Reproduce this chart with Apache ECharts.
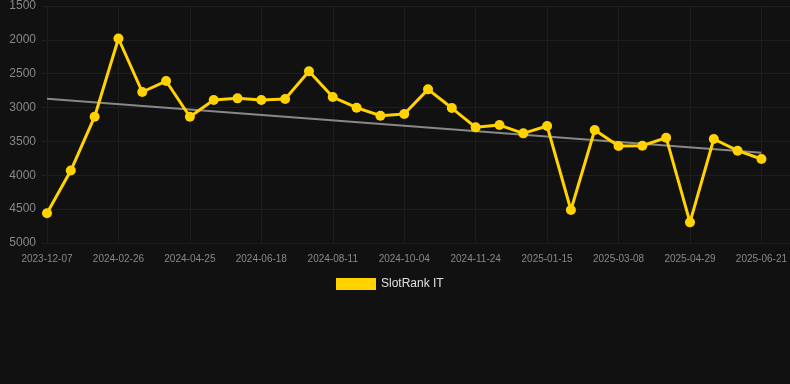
<!DOCTYPE html>
<html>
<head>
<meta charset="utf-8">
<script src="https://cdn.jsdelivr.net/npm/echarts@6/dist/echarts.min.js"></script>
<style>
html,body{margin:0;padding:0;background:#111111;}
#chart{width:790px;height:384px;}
</style>
</head>
<body>
<div id="chart"></div>
<script>
var categories = [
  '2023-12-07','2024-01-03','2024-01-30','2024-02-26','2024-03-16','2024-04-05','2024-04-25',
  '2024-05-13','2024-05-31','2024-06-18','2024-07-06','2024-07-24','2024-08-11','2024-08-29',
  '2024-09-16','2024-10-04','2024-10-21','2024-11-07','2024-11-24','2024-12-11','2024-12-29',
  '2025-01-15','2025-02-01','2025-02-18','2025-03-08','2025-03-25','2025-04-11','2025-04-29',
  '2025-05-16','2025-06-03','2025-06-21'
];
var rankValues = [
  4560, 3930, 3135, 1980, 2770, 2608, 3135,
  2888, 2864, 2888, 2873, 2465, 2844, 3002,
  3120, 3095, 2731, 3007, 3292, 3258, 3381,
  3272, 4513, 3331, 3568, 3563, 3445, 4695,
  3464, 3637, 3760
];
var trendStart = 2869;
var trendEnd = 3667;
var yTicks = { min: 1500, max: 5000, interval: 500 };
var seriesName = 'SlotRank IT';

var trendData = categories.map(function (c, i) {
  if (i === 0) return trendStart;
  if (i === categories.length - 1) return trendEnd;
  return null;
});

var chart = echarts.init(document.getElementById('chart'));
chart.setOption({
  backgroundColor: '#111111',
  animation: false,
  legend: {
    data: [seriesName],
    top: 273,
    left: 331,
    itemWidth: 40,
    itemHeight: 12,
    icon: 'rect',
    textStyle: { color: '#e0e0e0', fontSize: 12, fontFamily: 'Liberation Sans, Arial, sans-serif' }
  },
  grid: [
    { left: 47, right: 28, top: 6, bottom: 141 },
    { left: 42, right: 0, top: 6, bottom: 141 }
  ],
  xAxis: [
    {
      type: 'category', gridIndex: 0, data: categories, boundaryGap: false,
      axisLine: { show: false }, axisTick: { show: false },
      axisLabel: { interval: 2, color: '#888888', fontSize: 10, margin: 11,
        fontFamily: 'Liberation Sans, Arial, sans-serif' },
      splitLine: { show: true, interval: 2, lineStyle: { color: '#1d1d1d', width: 1 } }
    },
    {
      type: 'value', gridIndex: 1, show: false, min: 0, max: 1,
      splitLine: { show: false }
    }
  ],
  yAxis: [
    {
      type: 'value', gridIndex: 0, inverse: true,
      min: yTicks.min, max: yTicks.max, interval: yTicks.interval,
      axisLabel: { show: false }, axisLine: { show: false }, axisTick: { show: false },
      splitLine: { show: false }
    },
    {
      type: 'value', gridIndex: 1, inverse: true,
      min: yTicks.min, max: yTicks.max, interval: yTicks.interval,
      axisLine: { show: false }, axisTick: { show: false },
      axisLabel: { color: '#888888', fontSize: 12, margin: 6,
        formatter: function (v) { return String(v); },
        fontFamily: 'Liberation Sans, Arial, sans-serif' },
      splitLine: { show: true, lineStyle: { color: '#1f1f1f', width: 1 } }
    }
  ],
  series: [
    {
      name: 'trend', type: 'line', xAxisIndex: 0, yAxisIndex: 0,
      data: trendData, connectNulls: true, symbol: 'none',
      lineStyle: { color: '#888888', width: 2 }, z: 1, silent: true
    },
    {
      name: seriesName, type: 'line', xAxisIndex: 0, yAxisIndex: 0,
      data: rankValues, symbol: 'circle', symbolSize: 10,
      itemStyle: { color: '#ffd200' },
      lineStyle: { color: '#ffd200', width: 3 }, z: 2
    }
  ]
});
</script>
</body>
</html>
